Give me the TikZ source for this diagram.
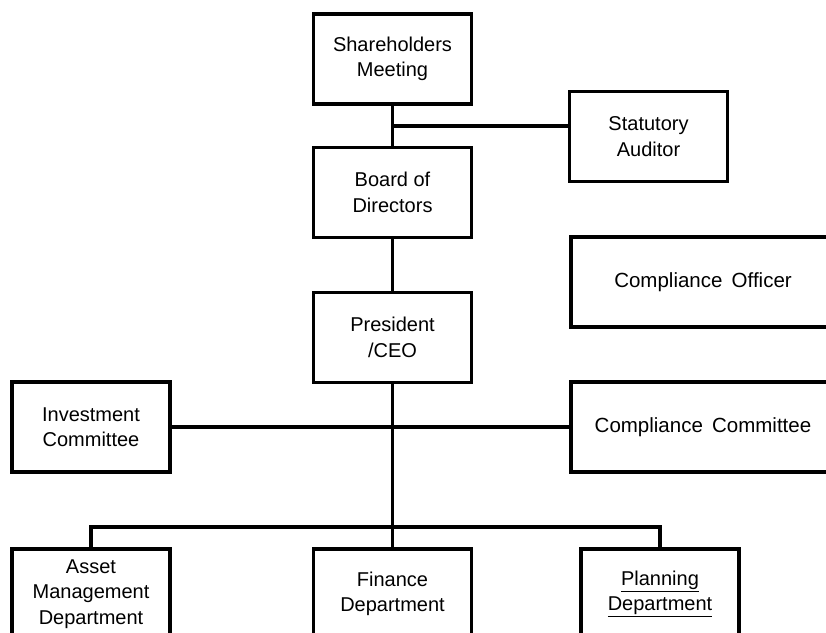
\documentclass[tikz,border=0pt]{standalone}
\usepackage{fontspec}
\setmainfont{Liberation Sans}
\usetikzlibrary{positioning}
\newcommand{\widespace}{\spaceskip 0.45em\relax}
\tikzstyle{unit}=[draw, line width=3.2pt, minimum width=158pt, minimum height=90pt, align=center, inner sep=2pt, font=\fontsize{20}{25.5}\selectfont]
\tikzstyle{wideunit}=[unit, minimum width=264pt, font=\fontsize{20.5}{25.5}\selectfont\widespace]
\tikzstyle{link}=[line width=3.2pt]

\begin{document}
\begin{tikzpicture}[x=1pt, y=-1pt]

    \useasboundingbox (0,0) rectangle (826,632);
    \clip (0,0) rectangle (826,632);

    % governing bodies
    \node[unit] (share) at (392.5,59) {Shareholders\\Meeting};
    \node[unit] (board) at (392.5,192.5) {Board of\\Directors};
    \node[unit] (auditor) at (648.5,136.5) {Statutory\\Auditor};
    \node[wideunit] (coff) at (703,282) {Compliance Officer};

    % management
    \node[unit] (pres) at (392.5,337.5) {President\\/CEO};
    \node[unit] (invest) at (91,427) {Investment\\Committee};
    \node[wideunit] (ccomm) at (703,427) {Compliance Committee};

    % departments
    \node[unit] (asset) at (91,594) {Asset\\Management\\Department};
    \node[unit] (fin) at (392.5,594) {Finance\\Department};
    \node[unit] (plan) at (660,594) {\underline{Planning}\\\underline{Department}};

    % junctions
    \coordinate (audj) at (392.5,126);
    \coordinate (bus) at (392.5,527);

    % Connect the nodes
    \path
        (share) edge [link] (board)
        (audj) edge [link] (audj -| auditor.west)
        (board) edge [link] (pres)
        (invest) edge [link] (ccomm)
        (pres) edge [link] (fin)
        ;
    \draw[link] (asset.north) |- (bus) -| (plan.north);

\end{tikzpicture}
\end{document}
